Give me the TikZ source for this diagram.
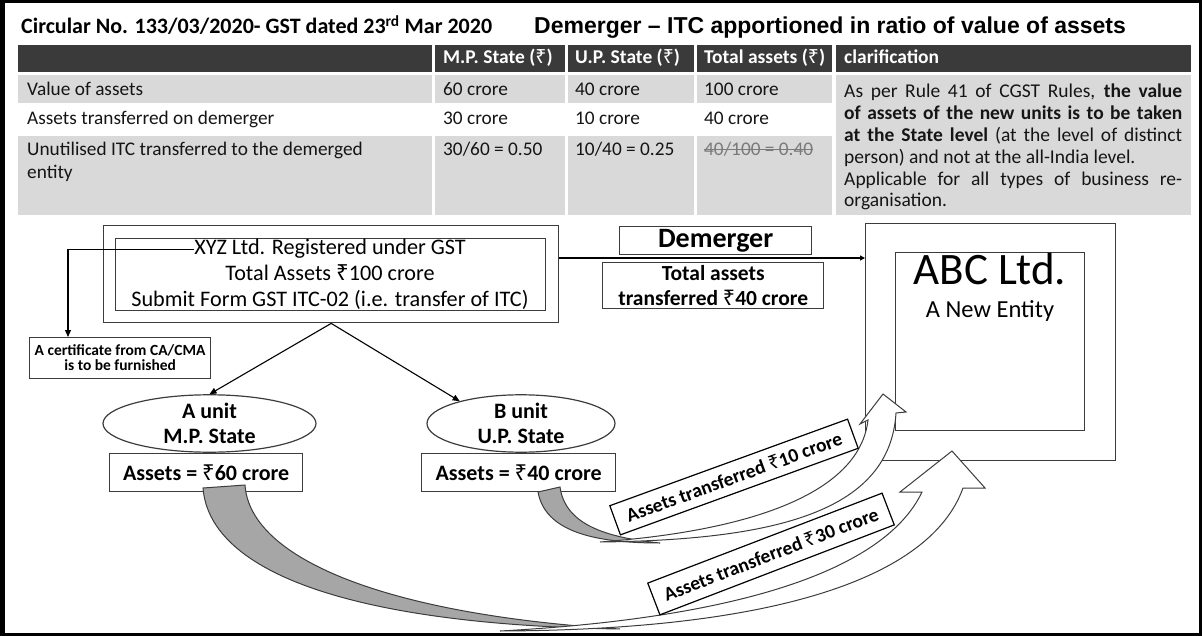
\documentclass[tikz,border=0pt]{standalone}
\usepackage{fontspec}
\setmainfont{Carlito}
\newfontfamily\arialf{Liberation Sans}
\newfontfamily\rsfont{Noto Sans}
\newcommand\rs{{\rsfont ₹}}
\newcommand\fsz[2]{\fontsize{#1}{#2}\selectfont}
\usetikzlibrary{arrows.meta,shapes.geometric}
\definecolor{hdr}{HTML}{3A3A3A}
\definecolor{cellg}{HTML}{D9D9D9}
\definecolor{bandg}{HTML}{A6A6A6}
\definecolor{edge}{HTML}{3C3C3C}
\definecolor{txt}{HTML}{151515}
\definecolor{strk}{HTML}{7A7A7A}
\begin{document}
\begin{tikzpicture}[x=1pt,y=-1pt,
  box/.style={draw=edge, line width=1.4pt, inner sep=0pt},
  tcell/.style={anchor=base west, inner sep=0pt, text=txt, font=\fsz{19.3}{23}},
  hcell/.style={anchor=base west, inner sep=0pt, text=white, font=\fsz{19.5}{23}\bfseries},
  conn/.style={draw=black, line width=1.1pt, -{Triangle[length=7pt,width=6pt]}},
  band/.style={fill=bandg, draw=edge, line width=1pt},
  wband/.style={fill=white, draw=edge, line width=1pt},
  lab/.style={draw=black, line width=1.2pt, fill=white, inner sep=0pt, font=\fsz{19.5}{22}\bfseries}
]
\useasboundingbox (0,0) rectangle (1202,636);
% frame
\fill[black] (0,0) rectangle (5,636);
\fill[black] (0,0) rectangle (1202,3);
\fill[black] (1199,0) rectangle (1202,636);
\fill[black] (0,633) rectangle (1202,636);

% titles
\node[anchor=base west, inner sep=0pt, font=\fsz{22}{24}\bfseries] (t1) at (21,34) {Circular No. 133/03/2020- GST dated 23\textsuperscript{rd} Mar 2020};
\node[anchor=base west, inner sep=0pt, font=\arialf\fsz{23}{25}\bfseries] (t2) at (534,34) {Demerger – ITC apportioned in ratio of value of assets};

% table backgrounds
\foreach \a/\b in {18/432,435/565,568/694,697/832,836/1191} \fill[hdr] (\a,45) rectangle (\b,72);
\foreach \a/\b in {18/432,435/565,568/694,697/832} {\fill[cellg] (\a,75) rectangle (\b,103); \fill[cellg] (\a,136) rectangle (\b,215);}
\fill[cellg] (836,75) rectangle (1191,215);

% header
\node[hcell] (h1) at (443,64) {M.P. State (\rs)};
\node[hcell] (h2) at (575,64) {U.P. State (\rs)};
\node[hcell] (h3) at (704,64) {Total assets (\rs)};
\node[hcell] (h4) at (844,64) {clarification};

% rows
\node[tcell] (r11) at (27,96) {Value of assets};
\node[tcell] (r12) at (443,96) {60 crore};
\node[tcell] (r13) at (575,96) {40 crore};
\node[tcell] (r14) at (704,96) {100 crore};
\node[tcell] (r21) at (27,125) {Assets transferred on demerger};
\node[tcell] (r22) at (443,125) {30 crore};
\node[tcell] (r23) at (575,125) {10 crore};
\node[tcell] (r24) at (704,125) {40 crore};
\node[tcell] (r31) at (27,156) {Unutilised ITC transferred to the demerged};
\node[tcell] (r31b) at (27,179) {entity};
\node[tcell] (r32) at (443,156) {30/60 = 0.50};
\node[tcell] (r33) at (575,156) {10/40 = 0.25};
\node[tcell, text=strk] (r34) at (704,156) {40/100 = 0.40};
\draw[strk, line width=1pt] (r34.west) -- (r34.east);

\node[anchor=north west, inner sep=0pt, text width=338pt, align=justify, font=\fsz{19.5}{21.8}, text=txt] (clar) at (844,84)
{As per Rule 41 of CGST Rules, \textbf{the value}\linebreak
\textbf{of assets of the new units is to be taken}\linebreak
\textbf{at the State level} (at the level of distinct\linebreak
person) and not at the all-India level.\\
Applicable for all types of business re-\linebreak
organisation.};

% XYZ
\node[box, minimum width=455pt, minimum height=97pt, anchor=north west] (xyzout) at (103,225) {};
\node[box, minimum width=430pt, minimum height=72pt, anchor=north west] (xyzin) at (115,238) {};
\node[anchor=base, inner sep=0pt, font=\fsz{22.2}{24}] (xyz1) at (330,255) {XYZ Ltd. Registered under GST};
\node[anchor=base, inner sep=0pt, font=\fsz{22.2}{24}] (xyz2) at (330,281) {Total Assets \rs100 crore};
\node[anchor=base, inner sep=0pt, font=\fsz{22.2}{24}] (xyz3) at (330,307) {Submit Form GST ITC-02 (i.e. transfer of ITC)};

% certificate
\node[box, line width=1.2pt, minimum width=181pt, minimum height=41pt, anchor=north west, align=center, font=\fsz{15.5}{15}\bfseries] (cert) at (29,337) {A certificate from CA/CMA\\is to be furnished};
\coordinate (certin) at (68,337);
\draw[conn] (xyz1.west) -| (certin);

% units
\node[ellipse, draw=edge, line width=1.2pt, minimum width=213pt, minimum height=57pt, inner sep=0pt, align=center, font=\fsz{22}{25}\bfseries] (aell) at (209.5,423.5) {A unit\\M.P. State};
\node[ellipse, draw=edge, line width=1.2pt, minimum width=188pt, minimum height=57pt, inner sep=0pt, align=center, font=\fsz{22}{25}\bfseries] (bell) at (521,423.5) {B unit\\U.P. State};
\node[box, minimum width=193pt, minimum height=38pt, anchor=north west, font=\fsz{22}{24}\bfseries] (abox) at (109,453) {Assets = \rs60 crore};
\node[box, minimum width=194pt, minimum height=38pt, anchor=north west, font=\fsz{22}{24}\bfseries] (bbox) at (421,453) {Assets = \rs40 crore};
\draw[conn] (xyzout.south) -- (aell.north);
\draw[conn] (xyzout.south) -- (bell.160);

% demerger
\node[box, minimum width=192pt, minimum height=28pt, anchor=north west, font=\fsz{28}{30}\bfseries] (dem) at (619,226) {Demerger};
\node[box, minimum width=221pt, minimum height=46pt, anchor=north west, align=center, font=\fsz{21.5}{25}\bfseries] (tot) at (602,262) {Total assets\\transferred \rs40 crore};

% ABC
\node[box, minimum width=250pt, minimum height=237pt, anchor=north west] (abcout) at (865,223) {};
\node[box, minimum width=189pt, minimum height=178pt, anchor=north west] (abcin) at (895,252) {};
\node[anchor=base, inner sep=0pt, font=\fsz{45}{48}] (abct) at (990,285) {ABC Ltd.};
\node[anchor=base, inner sep=0pt, font=\fsz{24.5}{26}] (abcs) at (990,318) {A New Entity};

\coordinate (mainy) at (0,258);
\draw[draw=black, line width=1.1pt, -{Triangle[length=5pt,width=5pt]}] (xyzout.east |- mainy) -- (abcout.west |- mainy);

% curved block arrows
\filldraw[band] (203,488) .. controls (210,575) and (360,625) .. (620,629) .. controls (390,615) and (250,560) .. (245,485) -- cycle;
\filldraw[band] (538,492) .. controls (545,530) and (590,543) .. (660,543) .. controls (600,537) and (565,522) .. (560,487) -- cycle;
\filldraw[wband] (500,631) .. controls (740,618) and (885,570) .. (922,492) -- (900,492) -- (952,451) -- (985,488) -- (963,488) .. controls (930,580) and (770,630) .. (500,631) -- cycle;
\filldraw[wband] (600,542) .. controls (760,530) and (860,490) .. (868,420) -- (860,424) -- (883,394) -- (906,412) -- (896,413) .. controls (890,510) and (780,540) .. (600,542) -- cycle;

% labels
\node[lab, minimum width=253pt, minimum height=31pt, rotate=20] (l10) at (734,477) {Assets transferred \rs10 crore};
\node[lab, minimum width=251pt, minimum height=34pt, rotate=21] (l30) at (771,554) {Assets transferred \rs30 crore};
\end{tikzpicture}
\end{document}
